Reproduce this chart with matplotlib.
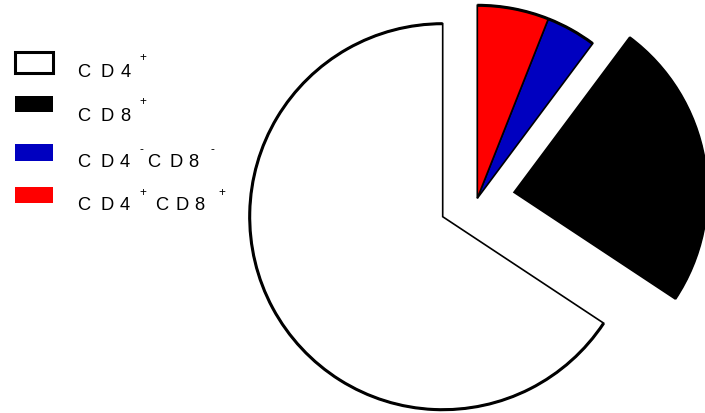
"""Pie of T-cell subsets (CD4/CD8) with two pulled-out groups and a hand-laid legend."""

import matplotlib

matplotlib.use("Agg")
import matplotlib.pyplot as plt
from matplotlib.patches import Rectangle, Arc

# subset shares, percent of cells
subsets = ["CD4+", "CD8+", "CD4-CD8-", "CD4+CD8+"]
shares = [65.7, 24.1, 4.2, 6.0]
colors = ["white", "black", "#0000C0", "#FF0000"]

# legend text pieces: letter groups and the superscript sign after each
legend_main = [["CD4"], ["CD8"], ["CD4", "CD8"], ["CD4", "CD8"]]
legend_sup = [["+"], ["+"], ["-", "-"], ["+", "+"]]

W, H = 705, 414
R = 193
CENTER = (442.7, H - 217.7)
# pulled-out slices: CD8+ alone, the two double groups together
SHIFT = {1: (514.0, H - 193.3), 2: (477.3, H - 199.3), 3: (477.3, H - 199.3)}

plt.rcParams["font.family"] = ["Liberation Sans", "DejaVu Sans"]

fig = plt.figure(figsize=(W / 100, H / 100), dpi=100)
ax = fig.add_axes([0, 0, 1, 1])

wedges, _ = ax.pie(shares, colors=colors, startangle=90, counterclock=True,
                   radius=R, center=CENTER,
                   wedgeprops=dict(edgecolor="black", linewidth=1.2))
for i, w in enumerate(wedges):
    if i in SHIFT:
        w.set_center(SHIFT[i])
    # heavier outline along the rim
    ax.add_patch(Arc(w.center, 2 * R, 2 * R, theta1=w.theta1, theta2=w.theta2,
                     color="black", lw=2.2, zorder=3))

ax.set_xlim(0, W)
ax.set_ylim(0, H)
ax.set_aspect("auto")
ax.axis("off")

# legend, drawn by hand in pixel coordinates (letters are widely spaced)
box_top = [52.5, 97.3, 145.0, 187.7]
box_h = [21.0, 16.0, 16.7, 16.7]
baseline = [76.7, 120.7, 166.9, 210.2]
char_x = [[(77.0, 100.0, 120.5)], [(77.0, 100.0, 120.5)],
          [(77.0, 100.0, 119.8), (147.5, 169.2, 188.2)],
          [(77.0, 100.0, 119.8), (154.7, 175.7, 194.7)]]
sup_xy = [[(142.5, 57.7)], [(142.5, 102.5)],
          [(141.7, 150.5), (212.5, 150.5)], [(143.3, 193.0), (222.0, 193.0)]]

for i in range(len(subsets)):
    if colors[i] == "white":
        ax.add_patch(Rectangle((14.8, H - box_top[i] - box_h[i]), 38, box_h[i],
                               fc="white", ec="black", lw=2.2))
    else:
        ax.add_patch(Rectangle((15, H - box_top[i] - box_h[i]), 37.7, box_h[i],
                               fc=colors[i], ec="none"))
    for txt, xs in zip(legend_main[i], char_x[i]):
        for ch, x in zip(txt, xs):
            ax.text(x, H - baseline[i], ch, fontsize=13.2, ha="left",
                    va="baseline")
    for s, (x, y) in zip(legend_sup[i], sup_xy[i]):
        ax.text(x, H - y, s, fontsize=8.5, ha="center", va="center")

fig.savefig("out.png", dpi=100)
plt.close(fig)
